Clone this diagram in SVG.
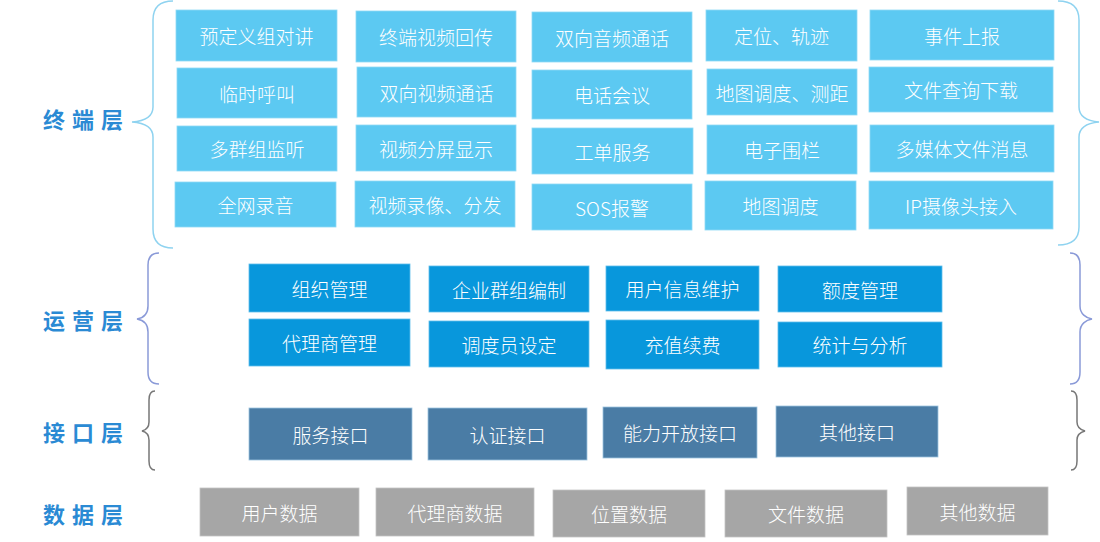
<svg xmlns="http://www.w3.org/2000/svg" width="1100" height="542" viewBox="0 0 1100 542">
<style>
  text { font-family: "Noto Sans CJK SC", "Liberation Sans", sans-serif; }
  .t { fill: #ffffff; font-size: 19px; font-weight: 300; text-anchor: middle; dominant-baseline: central; }
  .lbl { fill: #2a8ad4; font-size: 22px; font-weight: bold; letter-spacing: 7px; dominant-baseline: central; }
  .term { fill: #5cc9f2; stroke: #8fdaf6; stroke-width: 0.8; }
  .ops { fill: #0897dc; stroke: #5fbdea; stroke-width: 0.8; }
  .intf { fill: #4a7ca5; stroke: #9cc3de; stroke-width: 0.8; }
  .data { fill: #a6a6a6; stroke: #c4c4c4; stroke-width: 0.8; }
  .brace { fill: none; stroke-width: 1.5; }
</style>
<rect width="1100" height="542" fill="#ffffff"/>

<g id="labels">
  <text class="lbl" x="43" y="118">终端层</text>
  <text class="lbl" x="43" y="319">运营层</text>
  <text class="lbl" x="43" y="431">接口层</text>
  <text class="lbl" x="43" y="513">数据层</text>
</g>

<g id="braces">
  <path class="brace" stroke="#8fd3f0" d="M173,1 Q153,1 153,20 L153,107 C153,117 145,121 132,122 C145,123 153,127 153,137 L153,229 Q153,248 173,248"/>
  <path class="brace" stroke="#8fd3f0" d="M1058,1 Q1079,1 1079,20 L1079,107 C1079,117 1088,121 1099,122 C1088,123 1079,127 1079,137 L1079,227 Q1079,245 1058,245"/>
  <path class="brace" stroke="#8a9ad8" d="M159,253 Q148,253 148,265 L148,306 C148,314 143,318 137,319 C143,320 148,324 148,332 L148,372 Q148,384 159,384"/>
  <path class="brace" stroke="#8a9ad8" d="M1070,253 Q1080,253 1080,265 L1080,306 C1080,314 1086,318 1092,319 C1086,320 1080,324 1080,332 L1080,372 Q1080,384 1070,384"/>
  <path class="brace" stroke="#777777" d="M155,391 Q149,391 149,400 L149,422 C149,428 146,430 142,431 C146,432 149,434 149,440 L149,461 Q149,470 155,470"/>
  <path class="brace" stroke="#777777" d="M1071,391 Q1077,391 1077,400 L1077,422 C1077,428 1081,430 1085,431 C1081,432 1077,434 1077,440 L1077,461 Q1077,470 1071,470"/>
</g>

<!-- Terminal layer -->
<g id="t-1-1"><rect class="term" x="176" y="10" width="161" height="51"/><text class="t" x="256.5" y="35.5">预定义组对讲</text></g>
<g id="t-1-2"><rect class="term" x="177" y="68" width="160" height="50"/><text class="t" x="257" y="93">临时呼叫</text></g>
<g id="t-1-3"><rect class="term" x="177" y="126" width="160" height="45"/><text class="t" x="257" y="148.5">多群组监听</text></g>
<g id="t-1-4"><rect class="term" x="175" y="182" width="161" height="45"/><text class="t" x="255.5" y="204.5">全网录音</text></g>

<g id="t-2-1"><rect class="term" x="356" y="11" width="160" height="51"/><text class="t" x="436" y="36.5">终端视频回传</text></g>
<g id="t-2-2"><rect class="term" x="357" y="67" width="159" height="50"/><text class="t" x="436.5" y="92">双向视频通话</text></g>
<g id="t-2-3"><rect class="term" x="356" y="125" width="160" height="46"/><text class="t" x="436" y="148">视频分屏显示</text></g>
<g id="t-2-4"><rect class="term" x="355" y="181" width="160" height="46"/><text class="t" x="435" y="204">视频录像、分发</text></g>

<g id="t-3-1"><rect class="term" x="532" y="12" width="160" height="50"/><text class="t" x="612" y="37">双向音频通话</text></g>
<g id="t-3-2"><rect class="term" x="532" y="70" width="160" height="49"/><text class="t" x="612" y="94.5">电话会议</text></g>
<g id="t-3-3"><rect class="term" x="532" y="128" width="161" height="46"/><text class="t" x="612.5" y="151">工单服务</text></g>
<g id="t-3-4"><rect class="term" x="532" y="184" width="160" height="46"/><text class="t" x="612" y="207">SOS报警</text></g>

<g id="t-4-1"><rect class="term" x="706" y="10" width="151" height="51"/><text class="t" x="781.5" y="35.5">定位、轨迹</text></g>
<g id="t-4-2"><rect class="term" x="707" y="69" width="150" height="46"/><text class="t" x="782" y="92">地图调度、测距</text></g>
<g id="t-4-3"><rect class="term" x="707" y="125" width="150" height="49"/><text class="t" x="782" y="149.5">电子围栏</text></g>
<g id="t-4-4"><rect class="term" x="705" y="181" width="151" height="49"/><text class="t" x="780.5" y="205.5">地图调度</text></g>

<g id="t-5-1"><rect class="term" x="870" y="10" width="184" height="50"/><text class="t" x="962" y="35">事件上报</text></g>
<g id="t-5-2"><rect class="term" x="869" y="67" width="184" height="45"/><text class="t" x="961" y="89.5">文件查询下载</text></g>
<g id="t-5-3"><rect class="term" x="870" y="125" width="184" height="47"/><text class="t" x="962" y="148.5">多媒体文件消息</text></g>
<g id="t-5-4"><rect class="term" x="869" y="181" width="184" height="48"/><text class="t" x="961" y="205">IP摄像头接入</text></g>

<!-- Operations layer -->
<g id="o-1-1"><rect class="ops" x="249" y="264" width="161" height="48"/><text class="t" x="329.5" y="288">组织管理</text></g>
<g id="o-1-2"><rect class="ops" x="429" y="266" width="160" height="46"/><text class="t" x="509" y="289">企业群组编制</text></g>
<g id="o-1-3"><rect class="ops" x="606" y="266" width="153" height="45"/><text class="t" x="682.5" y="288.5">用户信息维护</text></g>
<g id="o-1-4"><rect class="ops" x="778" y="266" width="164" height="46"/><text class="t" x="860" y="289">额度管理</text></g>
<g id="o-2-1"><rect class="ops" x="249" y="319" width="161" height="47"/><text class="t" x="329.5" y="342.5">代理商管理</text></g>
<g id="o-2-2"><rect class="ops" x="429" y="321" width="160" height="46"/><text class="t" x="509" y="344">调度员设定</text></g>
<g id="o-2-3"><rect class="ops" x="606" y="320" width="153" height="49"/><text class="t" x="682.5" y="344.5">充值续费</text></g>
<g id="o-2-4"><rect class="ops" x="778" y="322" width="164" height="45"/><text class="t" x="860" y="344.5">统计与分析</text></g>

<!-- Interface layer -->
<g id="i-1"><rect class="intf" x="249" y="408" width="163" height="52"/><text class="t" x="330.5" y="434">服务接口</text></g>
<g id="i-2"><rect class="intf" x="428" y="408" width="159" height="52"/><text class="t" x="507.5" y="434">认证接口</text></g>
<g id="i-3"><rect class="intf" x="603" y="407" width="154" height="51"/><text class="t" x="680" y="432.5">能力开放接口</text></g>
<g id="i-4"><rect class="intf" x="776" y="406" width="162" height="51"/><text class="t" x="857" y="431.5">其他接口</text></g>

<!-- Data layer -->
<g id="d-1"><rect class="data" x="200" y="488" width="159" height="48"/><text class="t" x="279.5" y="512">用户数据</text></g>
<g id="d-2"><rect class="data" x="376" y="488" width="158" height="48"/><text class="t" x="455" y="512">代理商数据</text></g>
<g id="d-3"><rect class="data" x="553" y="490" width="152" height="47"/><text class="t" x="629" y="513.5">位置数据</text></g>
<g id="d-4"><rect class="data" x="725" y="490" width="162" height="47"/><text class="t" x="806" y="513.5">文件数据</text></g>
<g id="d-5"><rect class="data" x="907" y="487" width="141" height="48"/><text class="t" x="977.5" y="511">其他数据</text></g>
</svg>
